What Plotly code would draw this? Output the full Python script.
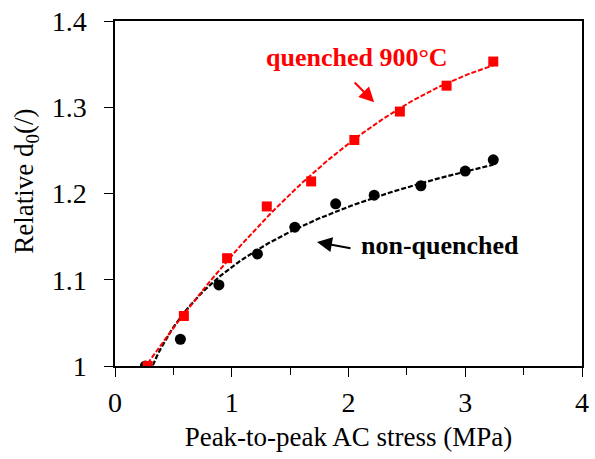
import numpy as np
import plotly.graph_objects as go

# quenched 900°C (red squares)
q_x = [0.28, 0.59, 0.96, 1.30, 1.68, 2.05, 2.44, 2.84, 3.24]
q_y = [1.000, 1.058, 1.125, 1.185, 1.214, 1.262, 1.295, 1.325, 1.353]
# non-quenched (black circles)
n_x = [0.26, 0.56, 0.89, 1.22, 1.54, 1.89, 2.22, 2.62, 3.00, 3.24]
n_y = [1.000, 1.031, 1.094, 1.130, 1.161, 1.188, 1.198, 1.209, 1.226, 1.239]

x_ticks = [0, 1, 2, 3, 4]
y_ticks = [1.0, 1.1, 1.2, 1.3, 1.4]
y_tick_text = ["1", "1.1", "1.2", "1.3", "1.4"]

FONT = "Liberation Serif"

# trend lines fitted to the data
qx = np.array(q_x); qy = np.array(q_y)
nx = np.array(n_x); ny = np.array(n_y)
cq = np.polyfit(qx, qy, 2)
xs_q = np.linspace(qx.min(), qx.max(), 100)
ys_q = np.polyval(cq, xs_q)
cn = np.polyfit(np.log(nx), ny, 1)
xs_n = np.linspace(0.30, nx.max(), 100)
ys_n = np.polyval(cn, np.log(xs_n))

fig = go.Figure()
fig.add_trace(go.Scatter(x=xs_n, y=ys_n, mode="lines",
                         line=dict(color="black", width=2.2, dash="5px,2px"),
                         showlegend=False, hoverinfo="skip"))
fig.add_trace(go.Scatter(x=xs_q, y=ys_q, mode="lines",
                         line=dict(color="#ff0000", width=2, dash="5px,2px"),
                         showlegend=False, hoverinfo="skip"))
fig.add_trace(go.Scatter(x=n_x, y=n_y, mode="markers",
                         marker=dict(symbol="circle", size=11, color="black"),
                         showlegend=False))
fig.add_trace(go.Scatter(x=q_x, y=q_y, mode="markers",
                         marker=dict(symbol="square", size=10, color="#ff0000"),
                         showlegend=False))

fig.add_annotation(x=2.07, y=1.358, xref="x", yref="y", text="<b>quenched 900°C</b>",
                   showarrow=False, font=dict(family=FONT, size=26, color="#ff0000"))
fig.add_annotation(x=2.22, y=1.3057, ax=2.01, ay=1.3345, xref="x", yref="y",
                   axref="x", ayref="y", text=" ", showarrow=True,
                   arrowhead=2, arrowsize=1.5, arrowwidth=2, arrowcolor="#ff0000")
fig.add_annotation(x=3.48, y=1.140, xref="x", yref="y", text="<b>non-quenched</b>",
                   showarrow=False, xanchor="right",
                   font=dict(family=FONT, size=26, color="black"))
fig.add_annotation(x=1.73, y=1.1437, ax=2.06, ay=1.1356, xref="x", yref="y",
                   axref="x", ayref="y", text=" ", showarrow=True,
                   arrowhead=2, arrowsize=1.5, arrowwidth=2, arrowcolor="black")
# y-axis title
fig.add_annotation(x=-0.19, y=0.535, xref="paper", yref="paper",
                   text="Relative d<sub>0</sub>(/)", textangle=-90, showarrow=False,
                   xanchor="center", yanchor="middle",
                   font=dict(family=FONT, size=27, color="black"))

fig.update_layout(
    width=595, height=459,
    margin=dict(l=115, r=6, t=17, b=93),
    paper_bgcolor="white", plot_bgcolor="white",
    font=dict(family=FONT, size=28, color="black"),
)
fig.update_xaxes(range=[0, 4], tickvals=x_ticks, ticks="outside", ticklen=9,
                 tickwidth=1.3, tickcolor="black", showline=True, linecolor="black",
                 linewidth=1.5, mirror=True, showgrid=False, zeroline=False,
                 minor=dict(dtick=0.5, ticks="outside", ticklen=7, tickcolor="black",
                            tickwidth=1.3),
                 title=dict(text="Peak-to-peak AC stress (MPa)", standoff=10,
                            font=dict(family=FONT, size=27)),
                 tickfont=dict(family=FONT, size=28),
                 ticklabelstandoff=2)
fig.update_yaxes(range=[1, 1.4], tickvals=y_ticks, ticktext=y_tick_text,
                 ticks="outside", ticklen=9, tickwidth=1.3, tickcolor="black",
                 showline=True, linecolor="black", linewidth=1.5, mirror=True,
                 showgrid=False, zeroline=False,
                 tickfont=dict(family=FONT, size=28),
                 ticklabelstandoff=12)

fig.write_html("out.html")
